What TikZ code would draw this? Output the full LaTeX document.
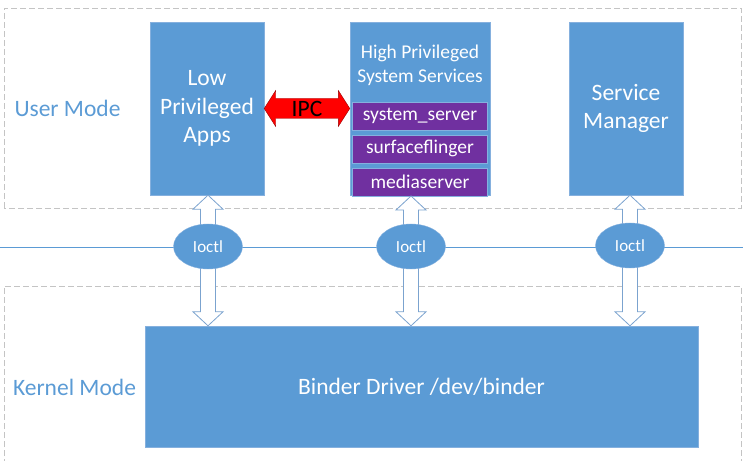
\documentclass[tikz,border=0pt]{standalone}
\usepackage{fontspec}
\setmainfont{Carlito}
\usetikzlibrary{positioning,calc,shapes.geometric}

\definecolor{officeblue}{HTML}{5B9BD5}
\definecolor{edgeblue}{HTML}{85B0DE}
\definecolor{svcpurple}{HTML}{7030A0}
\definecolor{zonegrey}{HTML}{C4C4C4}
\definecolor{arrowblue}{HTML}{7BA3CF}

\tikzstyle{zone} = [draw = zonegrey, dash pattern = on 6pt off 3pt, line width = 0.8pt]
\tikzstyle{box} = [minimum width = 114pt, minimum height = 173pt, draw = edgeblue, fill = officeblue, text = white, align = center, inner sep = 0pt, font = \fontsize{23.5}{28.5}\selectfont]
\tikzstyle{sub} = [minimum width = 135pt, minimum height = 28pt, draw = edgeblue, fill = svcpurple, text = white, inner sep = 0pt, font = \fontsize{19.5}{24}\selectfont]
\tikzstyle{io} = [ellipse, minimum width = 69pt, minimum height = 45pt, draw = edgeblue, fill = officeblue, text = white, inner sep = 0pt, font = \fontsize{17}{20}\selectfont]
\tikzstyle{lbl} = [text = officeblue, font = \fontsize{23.5}{28.5}\selectfont]
\tikzstyle{hollow} = [draw = arrowblue, fill = white, line width = 0.8pt]

\newcommand{\hollowarrow}[2]{%
    \draw [hollow] (#1) -- ++(-15, -14) -- ++(7.5, 0) -- ($(#2) + (-7.5, 14)$) -- ++(-7.5, 0) -- (#2) -- ++(15, 14) -- ++(-7.5, 0) -- ($(#1) + (7.5, -14)$) -- ++(7.5, 0) -- cycle;
}

\begin{document}
\begin{tikzpicture}[x = 1pt, y = 1pt]
        \useasboundingbox (0, 0) rectangle (743, 460);

        % user and kernel regions
        \draw [zone] (4, 252) rectangle (741, 452);
        \draw [zone] (4, -5) rectangle (741, 174);
        \node [lbl] (user) at (67.5, 352) {User Mode};
        \node [lbl] (kernel) at (74.5, 73) {Kernel Mode};

        % processes
        \node [box] (apps) at (207, 351.5) {Low\\Privileged\\Apps};
        \node [box, minimum width = 140pt] (sys) at (420, 351.5) {};
        \node [box] (sm) at (626, 351.5) {Service\\Manager};
        \node [text = white, align = center, font = \fontsize{19.5}{24}\selectfont] (systitle) at (420, 395) {High Privileged\\System Services};
        \node [sub] (ss) at (420, 344) {system\_server};
        \node [sub, below = 4.5pt of ss] (sf) {surfaceflinger};
        \node [sub, below = 4.5pt of sf] (ms) {mediaserver};

        % driver
        \node [box, minimum width = 553pt, minimum height = 121pt] (binder) at (421.5, 73.5) {Binder Driver /dev/binder};

        % IPC
        \coordinate (ipcend) at (apps.east -| sys.west);
        \draw [fill = red, draw = red!60!black, line width = 0.4pt] (apps.east) -- ++(11.5, 18) -- ++(0, -8) -- ($(ipcend) + (-11.5, 10)$) -- ++(0, 8) -- (ipcend) -- ++(-11.5, -18) -- ++(0, 8) -- ($(apps.east) + (11.5, -10)$) -- ++(0, -8) -- cycle;
        \node [font = \fontsize{23.5}{28.5}\selectfont] (ipc) at ($(apps.east)!0.5!(ipcend)$) {IPC};

        % boundary line
        \coordinate (edgeL) at (0, 213);
        \coordinate (edgeR) at (743, 213);
        \draw [draw = officeblue, line width = 0.8pt] (edgeL) -- (edgeR);

        % ioctl calls
        \coordinate (c1) at (208, 213.5);
        \coordinate (c2) at (411, 213.5);
        \coordinate (c3) at (630, 214.5);
        \coordinate (t1) at (c1 |- apps.south);
        \coordinate (t2) at (c2 |- ms.south);
        \coordinate (t3) at (c3 |- sm.south);
        \coordinate (b1) at (c1 |- binder.north);
        \coordinate (b2) at (c2 |- binder.north);
        \coordinate (b3) at (c3 |- binder.north);
        \hollowarrow{t1}{b1}
        \hollowarrow{t2}{b2}
        \hollowarrow{t3}{b3}
        \node [io] (io1) at (c1) {Ioctl};
        \node [io] (io2) at (c2) {Ioctl};
        \node [io] (io3) at (c3) {Ioctl};
    \end{tikzpicture}
\end{document}
